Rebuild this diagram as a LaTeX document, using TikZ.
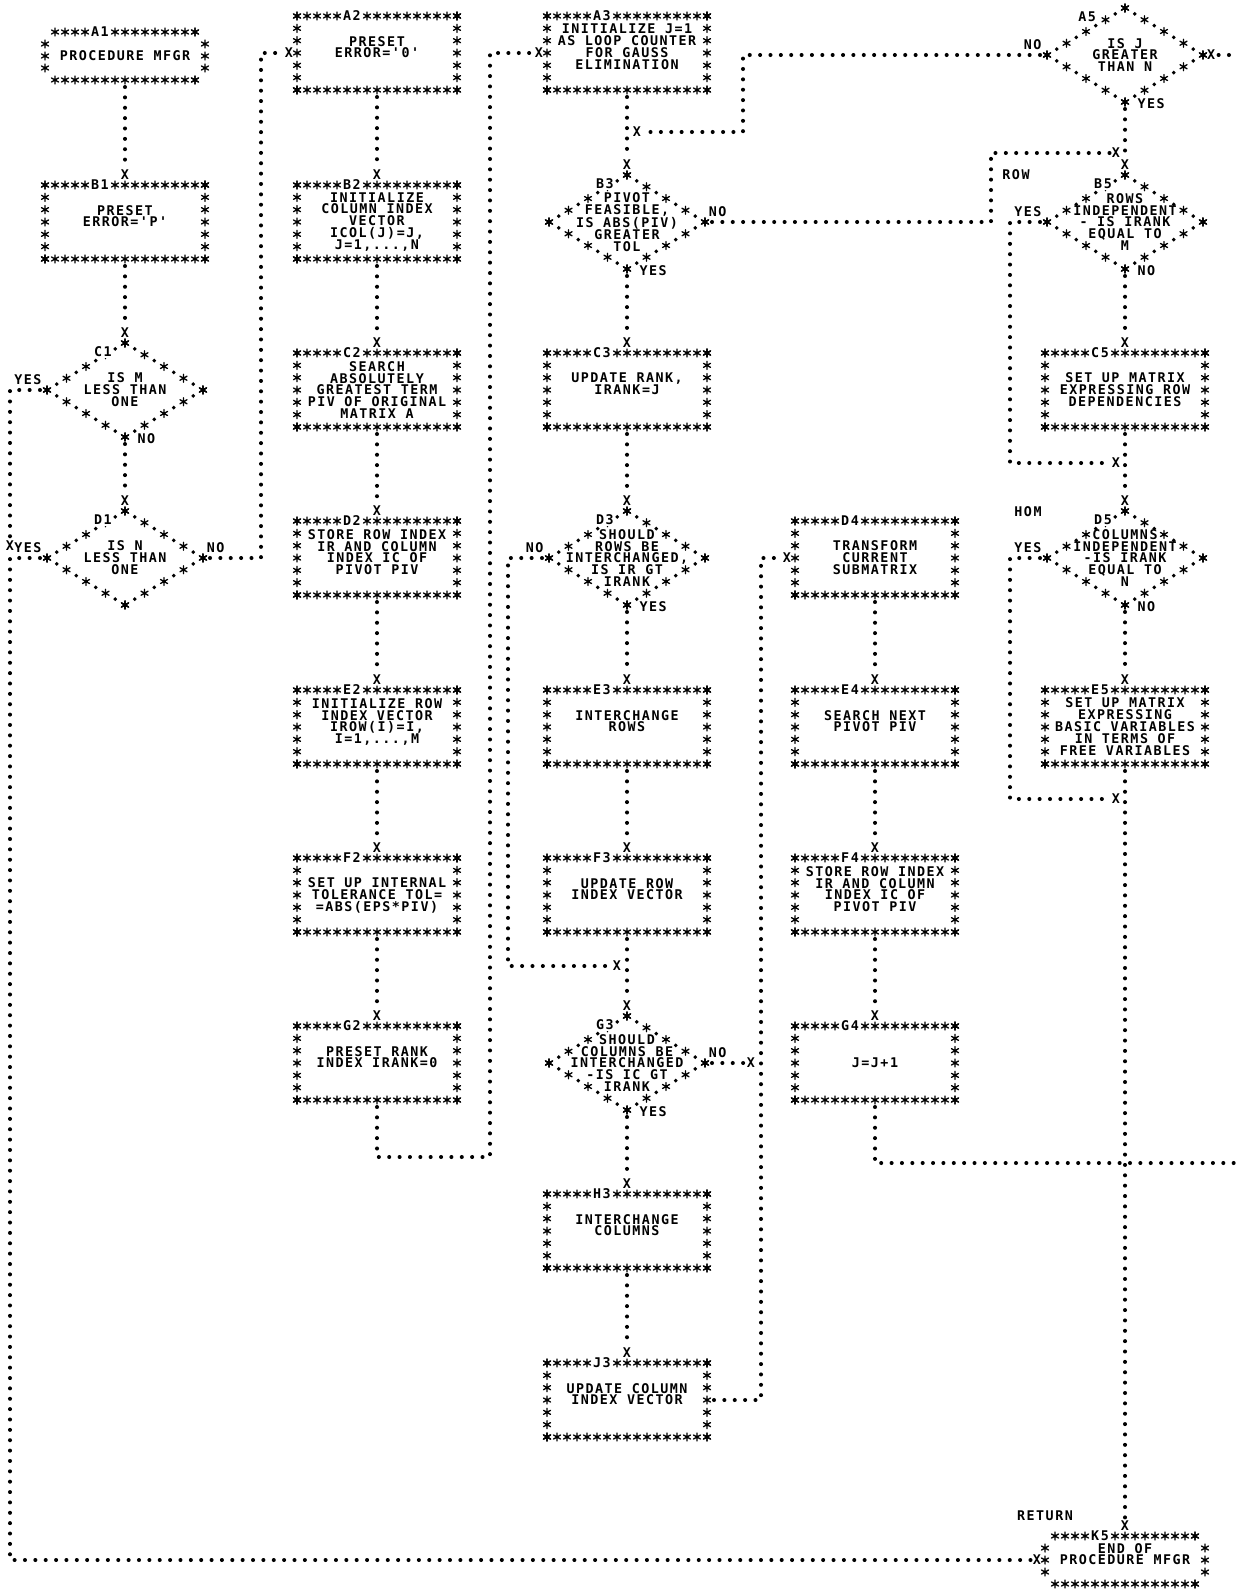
\documentclass[tikz,border=0pt]{standalone}
\usepackage{fontspec}
\setmonofont[LetterSpace=11]{DejaVu Sans Mono}
\usetikzlibrary{positioning,calc,shapes.geometric,decorations.markings}
\newcommand{\chartfont}{\ttfamily\bfseries\fontsize{7.6}{6.8}\selectfont}
\newcommand{\astk}{\draw[line width=0.75pt,line cap=round,solid]
  (0,-2.3pt)--(0,2.3pt) (-2pt,-1.15pt)--(2pt,1.15pt) (-2pt,1.15pt)--(2pt,-1.15pt);}

\begin{document}
\begin{tikzpicture}[x=0.02cm,y=-0.02cm,
  box/.style={minimum width=3.2cm,minimum height=1.48cm,inner sep=0pt,outer sep=0pt,
              align=center,font=\chartfont},
  term/.style={box,minimum height=0.96cm},
  decision/.style={diamond,minimum width=3.12cm,minimum height=1.88cm,inner sep=0pt,outer sep=0pt},
  dtext/.style={align=center,font=\chartfont,inner sep=0pt},
  lbl/.style={font=\chartfont,inner sep=0pt},
  boxlabel/.style={lbl,fill=white,inner sep=0.5pt},
  xmark/.style={font=\chartfont,inner sep=0.6pt},
  starrow/.style={decoration={markings,
      mark=between positions 0 and 1 step #1 with {\pgftransformresetnontranslations\astk},
      mark=at position 1 with {\pgftransformresetnontranslations\astk}},
    postaction={decorate}},
  diadots/.style={line width=2.2pt,line cap=round,dash pattern=on 0pt off 0.45533cm,
    dash phase=0.22767cm},
  flow/.style={line width=2.3pt,line cap=round,dash pattern=on 0pt off 5.9pt,shorten <=4pt}]
\useasboundingbox (0,0) rectangle (1236,1595);

% column 1
\node[term] (A1) at (125,56) {PROCEDURE MFGR};
\node[box] (B1) at (125,222) {PRESET\\ERROR='P'\\\mbox{}};
\node[decision] (C1) at (125,390) {};
\node[dtext] (C1t) at (C1) {IS M\\LESS THAN\\ONE};
\node[decision] (D1) at (125,558) {};
\node[dtext] (D1t) at (D1) {IS N\\LESS THAN\\ONE};
% column 2
\node[box] (A2) at (377,53) {PRESET\\ERROR='0'\\\mbox{}};
\node[box] (B2) at (377,222) {INITIALIZE\\COLUMN INDEX\\VECTOR\\ICOL(J)=J,\\J=1,...,N};
\node[box] (C2) at (377,390) {SEARCH\\ABSOLUTELY\\GREATEST TERM\\PIV OF ORIGINAL\\MATRIX A};
\node[box] (D2) at (377,558) {STORE ROW INDEX\\IR AND COLUMN\\INDEX IC OF\\PIVOT PIV\\\mbox{}};
\node[box] (E2) at (377,727) {INITIALIZE ROW\\INDEX VECTOR\\IROW(I)=I,\\I=1,...,M\\\mbox{}};
\node[box] (F2) at (377,895) {SET UP INTERNAL\\TOLERANCE TOL=\\=ABS(EPS*PIV)};
\node[box] (G2) at (377,1063) {PRESET RANK\\INDEX IRANK=0\\\mbox{}};
% column 3
\node[box] (A3) at (627,53) {INITIALIZE J=1\\AS LOOP COUNTER\\FOR GAUSS\\ELIMINATION\\\mbox{}};
\node[decision] (B3) at (627,222) {};
\node[dtext] (B3t) at (B3) {PIVOT\\FEASIBLE,\\IS ABS(PIV)\\GREATER\\TOL};
\node[box] (C3) at (627,390) {UPDATE RANK,\\IRANK=J\\\mbox{}};
\node[decision] (D3) at (627,558) {};
\node[dtext] (D3t) at (D3) {SHOULD\\ROWS BE\\INTERCHANGED,\\IS IR GT\\IRANK};
\node[box] (E3) at (627,727) {INTERCHANGE\\ROWS\\\mbox{}};
\node[box] (F3) at (627,895) {UPDATE ROW\\INDEX VECTOR\\\mbox{}};
\node[decision] (G3) at (627,1063) {};
\node[dtext] (G3t) at (G3) {SHOULD\\COLUMNS BE\\INTERCHANGED\\-IS IC GT\\IRANK};
\node[box] (H3) at (627,1231) {INTERCHANGE\\COLUMNS\\\mbox{}};
\node[box] (J3) at (627,1400) {UPDATE COLUMN\\INDEX VECTOR\\\mbox{}};
% column 4
\node[box] (D4) at (875,558) {TRANSFORM\\CURRENT\\SUBMATRIX};
\node[box] (E4) at (875,727) {SEARCH NEXT\\PIVOT PIV\\\mbox{}};
\node[box] (F4) at (875,895) {STORE ROW INDEX\\IR AND COLUMN\\INDEX IC OF\\PIVOT PIV\\\mbox{}};
\node[box] (G4) at (875,1063) {J=J+1};
% column 5
\node[decision] (A5) at (1125,55) {};
\node[dtext] (A5t) at (A5) {IS J\\GREATER\\THAN N};
\node[decision] (B5) at (1125,222) {};
\node[dtext] (B5t) at (B5) {ROWS\\INDEPENDENT\\- IS IRANK\\EQUAL TO\\M};
\node[box] (C5) at (1125,390) {SET UP MATRIX\\EXPRESSING ROW\\DEPENDENCIES};
\node[decision] (D5) at (1125,558) {};
\node[dtext] (D5t) at (D5) {COLUMNS\\INDEPENDENT\\-IS IRANK\\EQUAL TO\\N};
\node[box] (E5) at (1125,727) {SET UP MATRIX\\EXPRESSING\\BASIC VARIABLES\\IN TERMS OF\\FREE VARIABLES};
\node[term] (K5) at (1125,1560) {END OF\\PROCEDURE MFGR\\\mbox{}};

% asterisk borders
\foreach \n in {B1,A2,B2,C2,D2,E2,F2,G2,A3,C3,E3,F3,H3,J3,D4,E4,F4,G4,C5,E5}{
  \path[starrow=0.0625] (\n.north west) -- (\n.north east);
  \path[starrow=0.1666667] (\n.north east) -- (\n.south east);
  \path[starrow=0.0625] (\n.south east) -- (\n.south west);
  \path[starrow=0.1666667] (\n.south west) -- (\n.north west);
}
\foreach \n in {A1,K5}{
  \path[starrow=0.0714286] ([xshift=0.2cm]\n.north west) -- ([xshift=-0.2cm]\n.north east);
  \path[starrow=0.0714286] ([xshift=0.2cm]\n.south west) -- ([xshift=-0.2cm]\n.south east);
  \path[starrow=0.5] ([yshift=-0.24cm]\n.north west) -- ([yshift=0.24cm]\n.south west);
  \path[starrow=0.5] ([yshift=-0.24cm]\n.north east) -- ([yshift=0.24cm]\n.south east);
}
\foreach \n in {C1,D1,B3,D3,G3,A5,B5,D5}{
  \draw[diadots] (\n.north) -- (\n.east) -- (\n.south) -- (\n.west) -- (\n.north);
  \path[starrow=0.25] (\n.north) -- (\n.east);
  \path[starrow=0.25] (\n.east) -- (\n.south);
  \path[starrow=0.25] (\n.south) -- (\n.west);
  \path[starrow=0.25] (\n.west) -- (\n.north);
}

% block numbers
\foreach \n in {A1,B1,A2,B2,C2,D2,E2,F2,G2,A3,C3,E3,F3,H3,J3,D4,E4,F4,G4,C5,E5,K5}
  \node[boxlabel] (\n-lbl) at ([xshift=1.1cm]\n.north west) {\n};
\foreach \n in {C1,D1,B3,D3,G3,B5,D5}
  \node[boxlabel] (\n-lbl) at ([shift={(-0.44cm,0.76cm)}]\n.center) {\n};
\node[boxlabel] (A5-lbl) at ([shift={(-0.76cm,0.76cm)}]A5.center) {A5};

% entry marks
\foreach \n in {B1,C1,D1,B2,C2,D2,E2,F2,G2,B3,C3,D3,E3,F3,G3,H3,J3,E4,F4,G4,B5,C5,D5,E5,K5}
  \node[xmark,above=2.5pt of \n.north] (x\n) {X};
\node[xmark,left=1.5pt of A2.west] (xA2) {X};
\node[xmark,left=1.5pt of A3.west] (xA3) {X};
\node[xmark,left=1.5pt of D4.west] (xD4) {X};
\node[xmark,right=1.5pt of A5.east] (xA5) {X};
\node[xmark,left=1.5pt of K5.west] (xK5w) {X};
\node[xmark] (xjC1) at (10,546) {X};
\node[xmark] (xjA5) at (637,132) {X};
\node[xmark] (xjB3) at (1116,153) {X};
\node[xmark] (xjB5) at (1116,463) {X};
\node[xmark] (xjD5) at (1116,799) {X};
\node[xmark] (xjD3) at (617,966) {X};
\node[xmark] (xjG3) at (751,1063) {X};

% branch labels
\node[lbl,anchor=east] (C1yes) at ([xshift=-3pt,yshift=5.7pt]C1.west) {YES};
\node[lbl,anchor=west] (C1no) at ([xshift=7pt,yshift=-1pt]C1.south) {NO};
\node[lbl,anchor=east] (D1yes) at ([xshift=-3pt,yshift=5.7pt]D1.west) {YES};
\node[lbl,anchor=west] (D1no) at ([xshift=2pt,yshift=5.7pt]D1.east) {NO};
\node[lbl,anchor=east] (A5no) at ([xshift=-3pt,yshift=5.7pt]A5.west) {NO};
\node[lbl,anchor=west] (A5yes) at ([xshift=7pt,yshift=-1pt]A5.south) {YES};
\node[lbl,anchor=west] (B3no) at ([xshift=2pt,yshift=5.7pt]B3.east) {NO};
\node[lbl,anchor=west] (B3yes) at ([xshift=7pt,yshift=-1pt]B3.south) {YES};
\node[lbl,anchor=east] (B5yes) at ([xshift=-3pt,yshift=5.7pt]B5.west) {YES};
\node[lbl,anchor=west] (B5no) at ([xshift=7pt,yshift=-1pt]B5.south) {NO};
\node[lbl,anchor=east] (D3no) at ([xshift=-3pt,yshift=5.7pt]D3.west) {NO};
\node[lbl,anchor=west] (D3yes) at ([xshift=7pt,yshift=-1pt]D3.south) {YES};
\node[lbl,anchor=east] (D5yes) at ([xshift=-3pt,yshift=5.7pt]D5.west) {YES};
\node[lbl,anchor=west] (D5no) at ([xshift=7pt,yshift=-1pt]D5.south) {NO};
\node[lbl,anchor=west] (G3no) at ([xshift=2pt,yshift=5.7pt]G3.east) {NO};
\node[lbl,anchor=west] (G3yes) at ([xshift=7pt,yshift=-1pt]G3.south) {YES};
\node[lbl] (rowlbl) at (1016,175) {ROW};
\node[lbl] (homlbl) at (1028,512) {HOM};
\node[lbl] (retlbl) at (1045,1516) {RETURN};

% lanes
\coordinate (laneL) at (10,0);
\coordinate (lane12) at (261,0);
\coordinate (laneD3) at (508,0);
\coordinate (lane3r) at (743,0);
\coordinate (lane34) at (761,0);
\coordinate (laneB3) at (991,0);
\coordinate (laneB5) at (1010,0);
\coordinate (g2turn) at (490,1157);
\coordinate (edgeG4) at (1236,1163);
\coordinate (edgeA5) at (1236,55);

% connectors
\draw[flow] (A1) -- (xB1);
\draw[flow] (B1) -- (xC1);
\draw[flow] (C1.south) -- (xD1);
\draw[flow] (C1.west) -| (xjC1);
\draw[flow] (D1.west) -| (laneL |- xK5w) -- (xK5w);
\draw[flow] (D1.east) -| (lane12 |- xA2) -- (xA2);
\draw[flow] (A2) -- (xB2);
\draw[flow] (B2) -- (xC2);
\draw[flow] (C2) -- (xD2);
\draw[flow] (D2) -- (xE2);
\draw[flow] (E2) -- (xF2);
\draw[flow] (F2) -- (xG2);
\draw[flow] (G2.south) |- (g2turn) |- (xA3);
\draw[flow] (A3) -- (xB3);
\draw[flow] (A5.west) -| (lane3r |- xjA5) -- (xjA5);
\draw[flow] (B3.south) -- (xC3);
\draw[flow] (B3.east) -| (laneB3 |- xjB3) -- (xjB3);
\draw[flow] (C3) -- (xD3);
\draw[flow] (D3.south) -- (xE3);
\draw[flow] (D3.west) -| (laneD3 |- xjD3) -- (xjD3);
\draw[flow] (E3) -- (xF3);
\draw[flow] (F3) -- (xG3);
\draw[flow] (G3.south) -- (xH3);
\draw[flow] (G3.east) -- (xjG3);
\draw[flow] (H3) -- (xJ3);
\draw[flow] (J3.east) -| (lane34 |- xD4) -- (xD4);
\draw[flow] (D4) -- (xE4);
\draw[flow] (E4) -- (xF4);
\draw[flow] (F4) -- (xG4);
\draw[flow] (G4.south) |- (edgeG4);
\draw[flow] (edgeA5) -- (xA5);
\draw[flow] (A5.south) -- (xB5);
\draw[flow] (B5.south) -- (xC5);
\draw[flow] (B5.west) -| (laneB5 |- xjB5) -- (xjB5);
\draw[flow] (C5) -- (xD5);
\draw[flow] (D5.south) -- (xE5);
\draw[flow] (D5.west) -| (laneB5 |- xjD5) -- (xjD5);
\draw[flow] (E5) -- (xK5);
\end{tikzpicture}
\end{document}
